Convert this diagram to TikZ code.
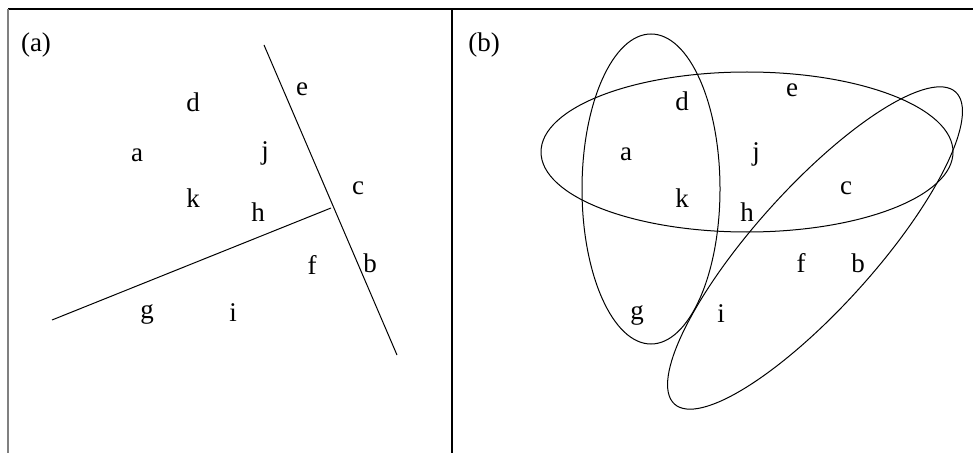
\documentclass[tikz,border=0pt]{standalone}
\usepackage{fontspec}
\setmainfont{Liberation Serif}
\begin{document}
\begin{tikzpicture}[x=1pt,y=1pt,
  lbl/.style={inner sep=0pt,font=\fontsize{27}{32}\selectfont},
  frameline/.style={line width=1.3pt},
  sepline/.style={line width=1pt},
  setcurve/.style={line width=1pt}]
\useasboundingbox (0,0) rectangle (973,453);
% frame
\draw[frameline] (8,444) -- (973,444);
\draw[frameline,gray] (8,444) -- (8,0);
\draw[frameline] (452,444) -- (452,0);
% panel (a)
\node[lbl] (pa) at (36,408) {(a)};
\node[lbl] (ad) at (193,351) {d};
\node[lbl] (ae) at (302,364) {e};
\node[lbl] (aa) at (137,298) {a};
\node[lbl] (aj) at (265,300) {j};
\node[lbl] (ac) at (358,265) {c};
\node[lbl] (ak) at (193,255) {k};
\node[lbl] (ah) at (258,241) {h};
\node[lbl] (af) at (312,188) {f};
\node[lbl] (ab) at (370,190) {b};
\node[lbl] (ag) at (147,139) {g};
\node[lbl] (ai) at (233,140) {i};
\coordinate (l1a) at (264,408);
\coordinate (l1b) at (397,98);
\coordinate (l2a) at (52,133);
\coordinate (l2b) at (331,245);
\draw[sepline] (l1a) -- (l1b);
\draw[sepline] (l2a) -- (l2b);
% panel (b)
\node[lbl] (pb) at (484,408) {(b)};
\node[lbl] (bd) at (682,352) {d};
\node[lbl] (be) at (792,363) {e};
\node[lbl] (ba) at (626,299) {a};
\node[lbl] (bj) at (756,299) {j};
\node[lbl] (bc) at (846,265) {c};
\node[lbl] (bk) at (682,255) {k};
\node[lbl] (bh) at (747,241) {h};
\node[lbl] (bf) at (801,190) {f};
\node[lbl] (bb) at (858,190) {b};
\node[lbl] (bg) at (637,138) {g};
\node[lbl] (bi) at (721,139) {i};
\draw[setcurve] (651,264) ellipse [x radius=69, y radius=155];
\draw[setcurve] (747,301) ellipse [x radius=206, y radius=80];
\draw[setcurve, rotate around={48:(815,205)}] (815,205) ellipse [x radius=210, y radius=60];
\end{tikzpicture}
\end{document}
